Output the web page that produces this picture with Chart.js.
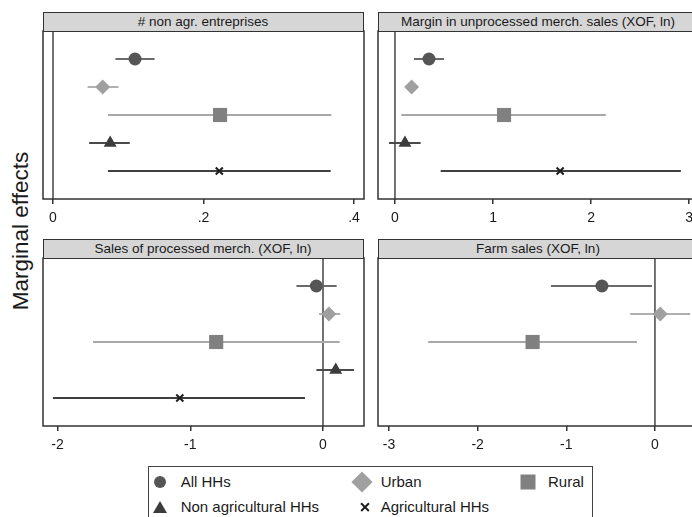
<!DOCTYPE html>
<html>
<head>
<meta charset="utf-8">
<script src="https://cdn.jsdelivr.net/npm/chart.js@4"></script>
<style>
html, body { margin: 0; padding: 0; overflow: hidden; background: #fff; }
body { width: 692px; height: 517px; position: relative; font-family: Arial, "Liberation Sans", sans-serif; color: #1a1a1a; }
.strip { position: absolute; box-sizing: border-box; height: 20px; width: 321px; background: #d6d6d6; border: 1.5px solid #333; font-size: 13.5px; text-align: center; line-height: 17px; white-space: nowrap; overflow: hidden; }
.panel { position: absolute; width: 325px; height: 198px; }
#ytitle { position: absolute; left: 21px; top: 231px; transform: translate(-50%, -50%) rotate(-90deg); font-size: 22.5px; white-space: nowrap; }
#legend { position: absolute; left: 148px; top: 466px; width: 445px; height: 70px; box-sizing: border-box; border: 1px solid #444; }
.lg { position: absolute; font-size: 15px; line-height: 18px; transform: translateY(-50%); white-space: nowrap; }
.mk { position: absolute; transform: translate(-50%, -50%); }
</style>
</head>
<body>
<div id="ytitle">Marginal effects</div>
<div id="legend"></div>
<script>
// groups, top to bottom in every panel
const groups = ['All HHs', 'Urban', 'Rural', 'Non agricultural HHs', 'Agricultural HHs'];
const rows = [1, 2, 3, 4, 5];

const titles = [
    '# non agr. entreprises',
    'Margin in unprocessed merch. sales (XOF, ln)',
    'Sales of processed merch. (XOF, ln)',
    'Farm sales (XOF, ln)'
];

// point estimates and confidence bounds
const nonAgrEst = [0.109, 0.066, 0.222, 0.076, 0.221];
const nonAgrLo = [0.083, 0.046, 0.073, 0.048, 0.073];
const nonAgrHi = [0.135, 0.087, 0.370, 0.102, 0.369];

const marginEst = [0.347, 0.170, 1.112, 0.102, 1.684];
const marginLo = [0.194, 0.115, 0.065, -0.061, 0.466];
const marginHi = [0.500, 0.225, 2.150, 0.262, 2.915];

const processedEst = [-0.050, 0.045, -0.805, 0.096, -1.079];
const processedLo = [-0.200, -0.030, -1.733, -0.050, -2.035];
const processedHi = [0.103, 0.130, 0.126, 0.234, -0.136];

const farmEst = [-0.598, 0.060, -1.380, null, null];
const farmLo = [-1.174, -0.279, -2.558, null, null];
const farmHi = [-0.034, 0.398, -0.203, null, null];

// axis ranges and ticks
const xMins = [-0.0133, -0.173, -2.11, -3.124];
const xMaxs = [0.4133, 3.10, 0.309, 0.497];
const tickValues = [[0, 0.2, 0.4], [0, 1, 2, 3], [-2, -1, 0], [-3, -2, -1, 0]];
const tickLabels = [['0', '.2', '.4'], ['0', '1', '2', '3'], ['-2', '-1', '0'], ['-3', '-2', '-1', '0']];

const estimates = [nonAgrEst, marginEst, processedEst, farmEst];
const lows = [nonAgrLo, marginLo, processedLo, farmLo];
const highs = [nonAgrHi, marginHi, processedHi, farmHi];

// layout (strip top-left corner of each panel)
const panelPos = [[42.5, 12], [377.5, 12], [42.5, 239], [377.5, 239]];

const markerStyles = [
    { pointStyle: 'circle', radius: 6.5, color: '#555555', line: '#6a6a6a' },
    { pointStyle: 'rectRot', radius: 7.5, color: '#a0a0a0', line: '#b0b0b0' },
    { pointStyle: 'rect', radius: 10, color: '#808080', line: '#a8a8a8' },
    { pointStyle: 'triangle', radius: 7.5, color: '#3c3c3c', line: '#4a4a4a' },
    { pointStyle: 'crossRot', radius: 5, color: '#1e1e1e', line: '#404040' }
];

const font = 'Arial, "Liberation Sans", sans-serif';

const framePlugin = {
    id: 'frame',
    beforeDatasetsDraw(chart) {
        const { ctx, chartArea, scales } = chart;
        const x0 = scales.x.getPixelForValue(0);
        ctx.save();
        ctx.strokeStyle = '#444';
        ctx.lineWidth = 1.5;
        ctx.beginPath();
        ctx.moveTo(x0, chartArea.top);
        ctx.lineTo(x0, chartArea.bottom);
        ctx.stroke();
        ctx.restore();
    },
    afterDraw(chart) {
        const { ctx, chartArea } = chart;
        ctx.save();
        ctx.strokeStyle = '#333';
        ctx.lineWidth = 1.5;
        ctx.strokeRect(chartArea.left, chartArea.top, chartArea.right - chartArea.left, chartArea.bottom - chartArea.top);
        ctx.restore();
    }
};

function makePanel(i) {
    const [left, top] = panelPos[i];

    const wrap = document.createElement('div');
    wrap.className = 'panel';
    wrap.style.left = (left - 2) + 'px';
    wrap.style.top = (top + 19 - 2) + 'px';
    const canvas = document.createElement('canvas');
    wrap.appendChild(canvas);
    document.body.appendChild(wrap);

    const strip = document.createElement('div');
    strip.className = 'strip';
    strip.style.left = left + 'px';
    strip.style.top = top + 'px';
    strip.textContent = titles[i];
    document.body.appendChild(strip);

    const datasets = [];
    rows.forEach((row, g) => {
        if (estimates[i][g] == null) return;
        const st = markerStyles[g];
        datasets.push({
            type: 'line',
            data: [{ x: lows[i][g], y: row }, { x: highs[i][g], y: row }],
            borderColor: st.line,
            borderWidth: 2,
            pointRadius: 0,
            showLine: true,
            order: 2
        });
        datasets.push({
            type: 'scatter',
            label: groups[g],
            data: [{ x: estimates[i][g], y: row }],
            pointStyle: st.pointStyle,
            pointRadius: st.radius,
            backgroundColor: st.color,
            borderColor: st.color,
            borderWidth: st.pointStyle === 'crossRot' ? 2 : 0,
            order: 1
        });
    });

    new Chart(canvas, {
        type: 'scatter',
        data: { datasets },
        options: {
            responsive: true,
            maintainAspectRatio: false,
            animation: false,
            layout: { autoPadding: false, padding: { left: 2, right: 2, top: 2, bottom: 0 } },
            plugins: { legend: { display: false }, tooltip: { enabled: false } },
            scales: {
                x: {
                    type: 'linear',
                    min: xMins[i],
                    max: xMaxs[i],
                    afterBuildTicks: (scale) => { scale.ticks = tickValues[i].map(v => ({ value: v })); },
                    afterFit: (scale) => {
                        scale.height = 28;
                        scale.paddingLeft = 0;
                        scale.paddingRight = 0;
                    },
                    ticks: {
                        callback: (v, idx) => tickLabels[i][idx],
                        font: { size: 14, family: font },
                        color: '#1a1a1a',
                        padding: 6,
                        maxRotation: 0,
                        autoSkip: false
                    },
                    grid: { drawOnChartArea: false, drawTicks: true, tickLength: 5, color: '#333', lineWidth: 1.5 },
                    border: { display: false }
                },
                y: { type: 'linear', min: 0, max: 6, reverse: true, display: false }
            }
        },
        plugins: [framePlugin]
    });
}

for (let i = 0; i < 4; i++) makePanel(i);

// legend
const legend = document.getElementById('legend');
const legendSpots = [[160, 482, 180.7], [362, 482, 380.7], [528, 482, 548], [160, 507, 180.7], [365, 507, 380.7]];
const markerCss = [
    'width:12px;height:12px;border-radius:50%;background:#555;',
    'width:15px;height:15px;background:#a0a0a0;transform:translate(-50%,-50%) rotate(45deg);',
    'width:15px;height:15px;background:#808080;',
    'width:0;height:0;border-left:7px solid transparent;border-right:7px solid transparent;border-bottom:12px solid #3c3c3c;'
];
groups.forEach((name, g) => {
    const [mx, my, tx] = legendSpots[g];
    if (g < 4) {
        const m = document.createElement('div');
        m.className = 'mk';
        m.style.cssText = markerCss[g] + 'left:' + mx + 'px;top:' + my + 'px;';
        document.body.appendChild(m);
    } else {
        [45, -45].forEach(a => {
            const m = document.createElement('div');
            m.className = 'mk';
            m.style.cssText = 'width:11px;height:1.8px;background:#1e1e1e;left:' + mx + 'px;top:' + my + 'px;transform:translate(-50%,-50%) rotate(' + a + 'deg);';
            document.body.appendChild(m);
        });
    }
    const t = document.createElement('div');
    t.className = 'lg';
    t.style.left = tx + 'px';
    t.style.top = my + 'px';
    t.textContent = name;
    document.body.appendChild(t);
});
</script>
</body>
</html>
